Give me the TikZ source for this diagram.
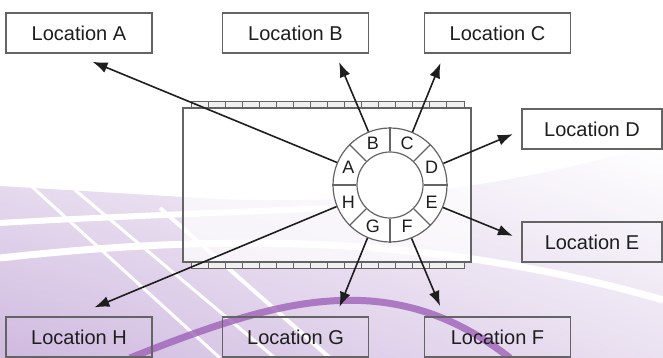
\documentclass[tikz,border=0pt]{standalone}
\usepackage{fontspec}
\setmainfont{Liberation Sans}
\usetikzlibrary{calc,arrows.meta,shapes,shadings}
\definecolor{frame}{RGB}{100,100,100}
\definecolor{ink}{RGB}{30,30,30}
\definecolor{lav}{RGB}{208,186,224}
\definecolor{lavlight}{RGB}{234,225,241}
\definecolor{plum}{RGB}{158,98,184}

\begin{document}
\begin{tikzpicture}[x=1pt,y=1pt,
    place/.style={draw=frame, line width=1.3pt, minimum width=146pt, minimum height=40pt, text=ink, font=\fontsize{20}{23}\selectfont},
    sector/.style={text=ink, font=\fontsize{18}{20}\selectfont},
    rim/.style={draw=frame, line width=1.2pt},
    link/.style={draw=ink, line width=1.6pt, -{Latex[length=15pt,width=11pt]}}]
  \fill[white] (0,0) rectangle (663,358);
  \useasboundingbox (0,0) rectangle (663,358);

  % backdrop swooshes
  \shade[upper left=lavlight, lower left=lav, upper right=white, lower right=lavlight]
    (0,172) -- (200,160) .. controls (380,150) and (520,175) .. (663,215) -- (663,0) -- (0,0) -- cycle;
  \draw[white, line width=7pt] (0,100) .. controls (200,122) and (420,128) .. (663,58);
  \draw[white, line width=6pt] (0,135) .. controls (120,142) and (220,145) .. (330,150);
  \draw[white, line width=3pt] (30,173) -- (220,0);
  \draw[white, line width=3pt] (75,168) -- (275,0);
  \draw[white, line width=4pt] (160,150) -- (330,0);
  \draw[plum, opacity=.8, line width=7pt]
    (130,0) .. controls (230,40) and (300,62) .. (370,57) .. controls (420,53) and (465,35) .. (510,0);

  % film strip
  \draw[rim, fill=white, fill opacity=.7] (183,96) rectangle (471,250);
  \foreach \y in {250,89} {
    \draw[rim, line width=1pt, fill=gray!12] (191,\y) rectangle (464,\y+6);
    \foreach \i in {1,...,15}
      \draw[frame, line width=1pt] (191+17.06*\i,\y) -- ++(0,6);
  }

  % ring of sectors
  \node[circle, rim, fill=white, minimum size=114pt, inner sep=0pt] (ring) at (390,173) {};
  \node[circle, rim, minimum size=66pt, inner sep=0pt] (hub) at (ring) {};
  \foreach \a in {0,45,...,315}
    \draw[rim] (hub.\a) -- (ring.\a);
  \foreach \s [count=\i] in {D,C,B,A,H,G,F,E}
    \node[sector] (s\s) at ($(ring)+({45*\i-22.5}:45)$) {\s};

  % locations
  \node[place] (locA) at (79,325) {Location A};
  \node[place] (locB) at (295.5,325) {Location B};
  \node[place] (locC) at (497.5,325) {Location C};
  \node[place, minimum width=140pt] (locD) at (592,229) {Location D};
  \node[place, minimum width=140pt] (locE) at (592,116) {Location E};
  \node[place] (locF) at (497.5,21) {Location F};
  \node[place] (locG) at (295.5,21) {Location G};
  \node[place] (locH) at (79,21) {Location H};

  % arrows out of the ring
  \foreach \s/\a/\d in {A/157.5/322, B/112.5/133, C/67.5/132, D/22.5/133,
                        E/337.5/133, F/292.5/131, G/247.5/132, H/202.5/320}
    \coordinate (tip\s) at ($(ring)+(\a:\d)$);
  \foreach \s/\a in {A/157.5, B/112.5, C/67.5, D/22.5, E/337.5, F/292.5, G/247.5, H/202.5}
    \draw[link] (ring.\a) -- (tip\s);
\end{tikzpicture}
\end{document}
